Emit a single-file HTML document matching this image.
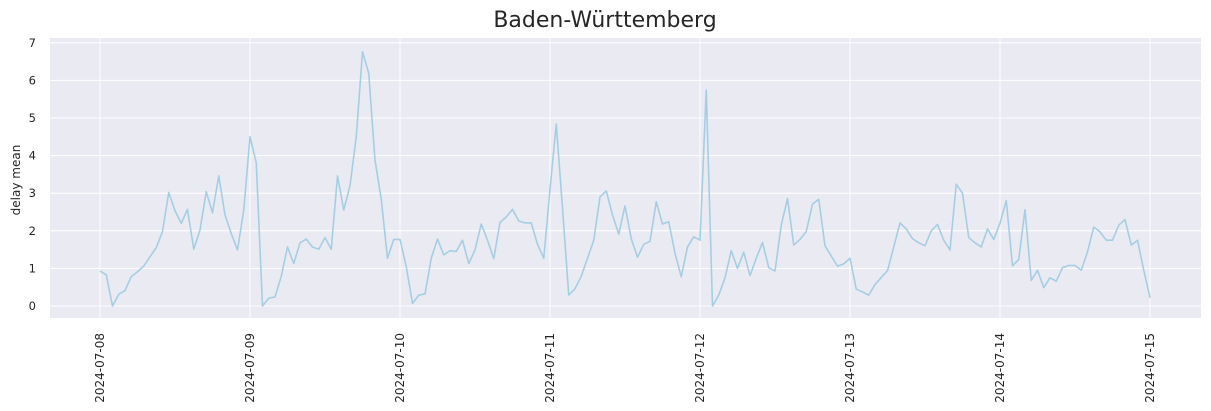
<!DOCTYPE html>
<html><head><meta charset="utf-8"><style>
body{margin:0;background:#fff;}
svg{display:block;font-family:"DejaVu Sans","Liberation Sans",sans-serif;}
</style></head><body>
<svg id="chart" width="1211" height="411" viewBox="0 0 1211 411" xmlns="http://www.w3.org/2000/svg">
<text x="605" y="27" text-anchor="middle" font-size="22" fill="#262626">Baden-Württemberg</text>
<rect x="50" y="38" width="1151" height="280" fill="#eaeaf2"/>
<g id="grid"></g>
<g id="yticks"></g>
<g id="xticks"></g>
<text transform="translate(20,180) rotate(-90)" text-anchor="middle" font-size="12" fill="#262626">delay mean</text>
<path id="series" fill="none" stroke="#a6cee3" stroke-width="1.6" stroke-linejoin="round"/>
</svg>
<script>
const dayLabels=["2024-07-08","2024-07-09","2024-07-10","2024-07-11","2024-07-12","2024-07-13","2024-07-14","2024-07-15"];
const yTicks=[0,1,2,3,4,5,6,7];
const delayMean=[
0.93,0.83,0.0,0.31,0.41,0.78,0.91,1.06,1.31,1.55,1.98,3.02,2.53,2.2,2.57,1.51,2.02,3.04,2.48,3.46,2.42,1.93,1.49,2.55,
4.5,3.81,0.0,0.21,0.24,0.79,1.57,1.13,1.68,1.78,1.57,1.51,1.82,1.51,3.46,2.55,3.2,4.5,6.76,6.19,3.88,2.84,1.27,1.77,
1.77,1.05,0.07,0.29,0.32,1.27,1.78,1.36,1.47,1.45,1.75,1.13,1.49,2.18,1.75,1.26,2.22,2.37,2.57,2.26,2.21,2.21,1.64,1.27,
3.1,4.84,2.6,0.29,0.46,0.79,1.27,1.75,2.9,3.06,2.42,1.91,2.66,1.79,1.3,1.64,1.72,2.77,2.18,2.24,1.4,0.78,1.57,1.84,
1.75,5.74,0.0,0.29,0.75,1.47,1.0,1.43,0.81,1.27,1.69,1.02,0.93,2.15,2.86,1.62,1.77,1.98,2.71,2.84,1.6,1.33,1.06,1.12,
1.27,0.45,0.37,0.29,0.57,0.76,0.94,1.57,2.21,2.05,1.79,1.68,1.6,2.0,2.17,1.75,1.49,3.24,3.0,1.82,1.68,1.57,2.05,1.77,
2.2,2.8,1.07,1.24,2.56,0.68,0.95,0.49,0.75,0.66,1.02,1.08,1.08,0.95,1.44,2.1,1.97,1.75,1.75,2.15,2.3,1.62,1.75,0.95,
0.22];
const NS="http://www.w3.org/2000/svg";
const xScale=h=>100+h*150/24;
const yScale=v=>306-v*37.6;
const grid=document.getElementById('grid'),yt=document.getElementById('yticks'),xt=document.getElementById('xticks');
yTicks.forEach(v=>{
 const l=document.createElementNS(NS,'line');
 
 
 l.setAttribute('x1',50);l.setAttribute('x2',1201);l.setAttribute('y1',yScale(v));l.setAttribute('y2',yScale(v));
 l.setAttribute('stroke','#fff');l.setAttribute('stroke-width','1');grid.appendChild(l);
 const t=document.createElementNS(NS,'text');
 
 
 t.setAttribute('x',36);t.setAttribute('y',yScale(v)+4);t.setAttribute('text-anchor','end');t.setAttribute('font-size','11.5');t.setAttribute('fill','#262626');
 t.textContent=v;yt.appendChild(t);
});
dayLabels.forEach((d,i)=>{
 const x=xScale(i*24);
 const l=document.createElementNS(NS,'line');
 
 
 l.setAttribute('x1',x);l.setAttribute('x2',x);l.setAttribute('y1',38);l.setAttribute('y2',318);
 l.setAttribute('stroke','#fff');l.setAttribute('stroke-width','1');grid.appendChild(l);
 const t=document.createElementNS(NS,'text');
 
 
 t.setAttribute('transform','translate('+(x+4)+',333) rotate(-90)');t.setAttribute('text-anchor','end');t.setAttribute('font-size','12');t.setAttribute('fill','#262626');
 t.textContent=d;xt.appendChild(t);
});
document.getElementById('series').setAttribute('d',delayMean.map((v,i)=>(i?'L':'M')+xScale(i).toFixed(2)+','+yScale(v).toFixed(2)).join(''));
</script>
</body></html>
